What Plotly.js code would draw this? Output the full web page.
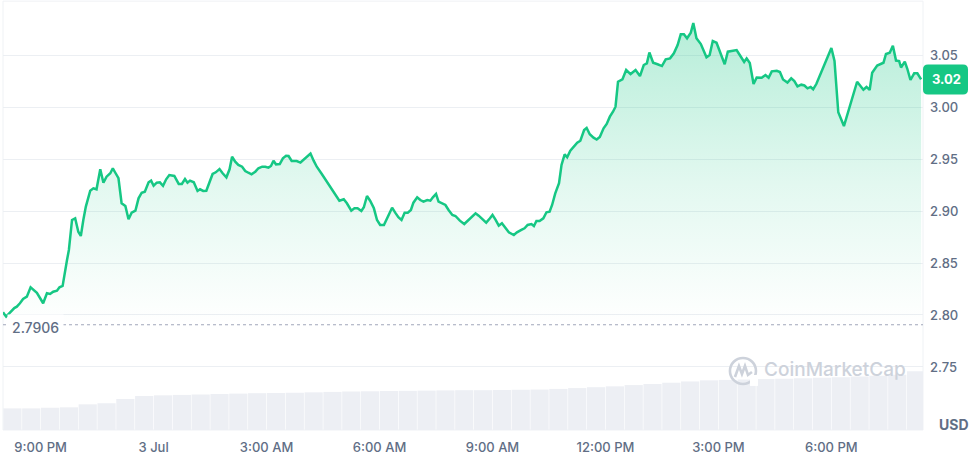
<!DOCTYPE html>
<html>
<head>
<meta charset="utf-8">
<script src="https://cdn.plot.ly/plotly-3.0.1.min.js"></script>
<style>
html,body{margin:0;padding:0;background:#fff;}
#chart{width:975px;height:460px;}
</style>
</head>
<body>
<div id="chart"></div>
<script>
// ---- Data ----
// minutes after 8:00 PM, 2 Jul
const minutesFromStart = [0,5,18,22,27,32,38,44,54,64,70,75,80,86,90,95,102,105,110,115,120,124,128,132,139,144,149,155,160,165,171,175,179,184,189,195,200,205,211,216,221,226,232,236,240,245,250,255,260,265,273,280,285,290,294,298,304,310,314,319,324,329,334,339,345,350,356,361,365,370,375,381,386,391,396,402,407,413,418,423,427,431,435,441,446,451,455,460,468,474,479,484,490,495,500,508,516,524,531,536,543,548,555,560,565,571,575,580,585,591,596,601,607,613,620,625,630,635,640,645,650,654,660,665,670,676,681,685,690,694,700,705,710,716,721,728,735,742,748,753,758,764,770,776,780,785,790,795,801,806,814,819,826,831,836,842,846,850,855,861,866,871,875,880,886,890,895,899,904,910,915,920,926,930,935,941,946,951,957,962,967,972,976,980,987,993,1000,1008,1015,1021,1026,1030,1036,1043,1050,1056,1063,1069,1075,1080,1085,1090,1096,1100,1105,1112,1117,1121,1126,1131,1137,1144,1150,1155,1162,1169,1174,1181,1185,1190,1196,1201,1209,1215,1220,1225,1233,1238,1243,1250,1256,1261,1266,1272,1277,1282,1287,1291,1296,1320,1325,1331,1340,1351,1361,1371,1376,1381,1385,1393,1400,1403,1407,1413,1418,1423,1428,1431,1437,1441,1446,1452,1457,1463];
const priceUSD = [2.8026,2.7984,2.8067,2.8080,2.8113,2.8154,2.8176,2.8266,2.8214,2.8113,2.8209,2.8202,2.8224,2.8234,2.8266,2.8279,2.8529,2.8625,2.8914,2.8930,2.8801,2.8760,2.8914,2.9042,2.9195,2.9218,2.9209,2.9401,2.9272,2.9330,2.9363,2.9411,2.9368,2.9315,2.9074,2.9048,2.8920,2.8984,2.9003,2.9122,2.9176,2.9186,2.9276,2.9292,2.9243,2.9272,2.9276,2.9243,2.9305,2.9346,2.9337,2.9260,2.9260,2.9308,2.9272,2.9292,2.9276,2.9193,2.9209,2.9193,2.9195,2.9282,2.9356,2.9372,2.9404,2.9363,2.9324,2.9401,2.9522,2.9474,2.9443,2.9426,2.9385,2.9368,2.9353,2.9378,2.9411,2.9426,2.9426,2.9417,2.9433,2.9484,2.9449,2.9452,2.9507,2.9532,2.9529,2.9481,2.9481,2.9466,2.9491,2.9515,2.9553,2.9484,2.9426,2.9356,2.9282,2.9202,2.9138,2.9099,2.9113,2.9074,2.9003,2.9026,2.9026,2.9000,2.9036,2.9144,2.9099,2.9026,2.8914,2.8866,2.8866,2.8945,2.9032,2.8984,2.8940,2.8914,2.8984,2.8984,2.9010,2.9080,2.9132,2.9106,2.9090,2.9106,2.9099,2.9132,2.9164,2.9090,2.9068,2.9058,2.9010,2.8962,2.8952,2.8907,2.8875,2.8914,2.8945,2.8978,2.8955,2.8923,2.8888,2.8930,2.8962,2.8914,2.8859,2.8882,2.8834,2.8795,2.8769,2.8795,2.8818,2.8834,2.8866,2.8875,2.8856,2.8904,2.8904,2.8930,2.8988,2.8993,2.9058,2.9170,2.9267,2.9443,2.9545,2.9517,2.9580,2.9618,2.9657,2.9676,2.9779,2.9798,2.9738,2.9705,2.9688,2.9712,2.9795,2.9837,2.9907,2.9955,3.0003,3.0243,3.0266,3.0356,3.0317,3.0356,3.0298,3.0404,3.0420,3.0524,3.0426,3.0411,3.0394,3.0459,3.0468,3.0516,3.0596,3.0699,3.0699,3.0661,3.0715,3.0808,3.0661,3.0606,3.0541,3.0478,3.0500,3.0635,3.0618,3.0516,3.0411,3.0532,3.0539,3.0548,3.0500,3.0433,3.0468,3.0423,3.0221,3.0284,3.0282,3.0308,3.0282,3.0343,3.0349,3.0337,3.0265,3.0236,3.0276,3.0250,3.0199,3.0215,3.0207,3.0180,3.0193,3.0171,3.0221,3.0567,3.0442,2.9950,2.9817,3.0029,3.0243,3.0166,3.0193,3.0164,3.0330,3.0399,3.0423,3.0426,3.0510,3.0522,3.0590,3.0447,3.0442,3.0380,3.0436,3.0368,3.0260,3.0324,3.0324,3.0265];
// volume per 30-minute bucket (relative units)
const volumeBuckets = [1.01,1.01,1.04,1.06,1.20,1.25,1.45,1.59,1.62,1.64,1.66,1.68,1.70,1.72,1.73,1.74,1.76,1.78,1.80,1.81,1.82,1.83,1.84,1.85,1.86,1.86,1.87,1.88,1.89,1.92,1.96,2.00,2.04,2.10,2.15,2.21,2.27,2.32,2.34,2.36,2.38,2.40,2.42,2.44,2.47,2.50,2.54,2.58,2.75];
const openPrice = 2.7906;
const lastPriceLabel = '3.02';
const priceTicks = [2.75, 2.80, 2.85, 2.90, 2.95, 3.00, 3.05];
const priceTickText = ['2.75','2.80','2.85','2.90','2.95','3.00','3.05'];
const timeTickMinutes = [60, 240, 420, 600, 780, 960, 1140, 1320];
const timeTickText = ['9:00 PM','3 Jul','3:00 AM','6:00 AM','9:00 AM','12:00 PM','3:00 PM','6:00 PM'];
const rangeMinutes = [0, 1466];

// ---- helpers ----
function pad(n){return (n<10?'0':'')+n;}
function stamp(m){
  const total = 20*60 + m;
  const day = 2 + Math.floor(total/1440);
  const rem = ((total % 1440)+1440)%1440;
  const hh = Math.floor(rem/60), mm = Math.round(rem%60);
  return '2025-07-' + pad(day) + ' ' + pad(hh) + ':' + pad(mm);
}
const times = minutesFromStart.map(stamp);
const volTimes = volumeBuckets.map((v,i)=>stamp(i*30+15));
const lastPrice = priceUSD[priceUSD.length-1];
const GREEN = '#16c784';
const TXT = '#616e85';
const WM = '#cdd2db';
const FONT = 'Inter, "Noto Sans", sans-serif';

const traces = [
  { // volume bars
    type:'bar', x: volTimes, y: volumeBuckets, yaxis:'y2',
    width: volumeBuckets.map(()=>29*60000),
    marker:{color:'#edeff4', line:{width:0}},
    hoverinfo:'skip', showlegend:false
  },
  { // baseline for fill
    type:'scatter', mode:'lines', x:[times[0], times[times.length-1]], y:[openPrice, openPrice],
    line:{width:0, color:'rgba(0,0,0,0)'}, hoverinfo:'skip', showlegend:false
  },
  { // price
    type:'scatter', mode:'lines', x: times, y: priceUSD,
    line:{color:GREEN, width:2.5, shape:'linear'},
    fill:'tonexty',
    fillgradient:{type:'vertical', start: openPrice, stop: 3.085,
      colorscale:[[0,'rgba(22,199,132,0)'],[0.45,'rgba(22,199,132,0.12)'],[1,'rgba(22,199,132,0.32)']]},
    hoverinfo:'skip', showlegend:false
  }
];

const layout = {
  width:975, height:460,
  margin:{l:3, r:52, t:2, b:30},
  paper_bgcolor:'#ffffff', plot_bgcolor:'#ffffff',
  showlegend:false,
  font:{family:FONT, color:TXT, size:13},
  xaxis:{
    type:'date', range:[stamp(rangeMinutes[0]), stamp(rangeMinutes[1])],
    showgrid:false, zeroline:false, showline:false, ticks:'',
    tickvals: timeTickMinutes.map(stamp), ticktext: timeTickText,
    tickfont:{family:FONT, color:TXT, size:13, weight:500},
    ticklabelstandoff: 8
  },
  yaxis:{
    side:'right', range:[2.6894, 3.1010],
    tickvals: priceTicks, ticktext: priceTickText,
    showgrid:true, gridcolor:'#eceff3', gridwidth:1,
    zeroline:false, showline:false, ticks:'',
    tickfont:{family:FONT, color:TXT, size:13, weight:500},
    ticklabelstandoff: 6
  },
  yaxis2:{overlaying:'y', side:'left', range:[0,20], visible:false, fixedrange:true},
  shapes:[
    {type:'rect', xref:'paper', yref:'paper', x0:0, x1:1, y0:0, y1:1.002,
     line:{color:'#eff2f5', width:1}, fillcolor:'rgba(0,0,0,0)', layer:'below'},
    {type:'line', xref:'paper', yref:'y', x0:0, x1:1, y0:openPrice, y1:openPrice,
     line:{color:'#a1a7bb', width:1.2, dash:'dot'}, layer:'above'},
    // current price badge
    {type:'path', xref:'paper', yref:'y', xsizemode:'pixel', ysizemode:'pixel',
     xanchor:1, yanchor:lastPrice,
     path:'M 5 -15 L 40 -15 Q 45 -15 45 -10 L 45 10 Q 45 15 40 15 L 5 15 Q 0 15 0 10 L 0 -10 Q 0 -15 5 -15 Z',
     fillcolor:GREEN, line:{width:0}, layer:'above'},
    // watermark logo
    {type:'circle', xref:'paper', yref:'paper', xsizemode:'pixel', ysizemode:'pixel',
     xanchor:0.8043, yanchor:0.1380, x0:-13, x1:13, y0:-13, y1:13,
     line:{color:WM, width:2.6}, fillcolor:'rgba(0,0,0,0)', layer:'above'},
    {type:'rect', xref:'paper', yref:'paper', xsizemode:'pixel', ysizemode:'pixel',
     xanchor:0.8043, yanchor:0.1380, x0:7, x1:15, y0:-15, y1:-4,
     line:{width:0}, fillcolor:'#ffffff', layer:'above'},
    {type:'path', xref:'paper', yref:'paper', xsizemode:'pixel', ysizemode:'pixel',
     xanchor:0.8043, yanchor:0.1380,
     path:'M -8 -6 L -4 5 L -1 -3 L 2 5 L 5 -4 L 9 -1',
     line:{color:WM, width:2.6}, fillcolor:'rgba(0,0,0,0)', layer:'above'}
  ],
  annotations:[
    {xref:'paper', yref:'y', x:0.004, y:openPrice, xanchor:'left', yanchor:'middle', yshift:-3,
     text:String(openPrice), showarrow:false, bgcolor:'#ffffff', borderpad:4,
     font:{family:FONT, color:TXT, size:14, weight:500}},
    {xref:'paper', yref:'y', x:1, y:lastPrice, xanchor:'left', yanchor:'middle', xshift:7,
     text:'<b>'+lastPriceLabel+'</b>', showarrow:false,
     font:{family:FONT, color:'#ffffff', size:13}},
    {xref:'paper', yref:'paper', x:1, y:0.013, xanchor:'left', yanchor:'middle', xshift:14,
     text:'<b>USD</b>', showarrow:false,
     font:{family:FONT, color:TXT, size:14}},
    {xref:'paper', yref:'paper', x:0.8043, y:0.1380, xanchor:'left', yanchor:'middle', xshift:19, yshift:1,
     text:'CoinMarketCap', showarrow:false,
     font:{family:FONT, color:WM, size:19, weight:500}}
  ]
};

Plotly.newPlot('chart', traces, layout, {staticPlot:true, displayModeBar:false});
</script>
</body>
</html>
